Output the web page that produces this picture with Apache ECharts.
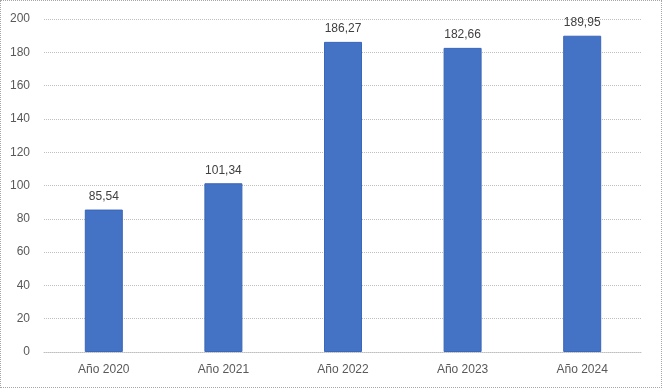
<!DOCTYPE html>
<html><head><meta charset="utf-8">
<script src="https://cdn.jsdelivr.net/npm/echarts@6/dist/echarts.min.js"></script>
<style>html,body{margin:0;padding:0;background:#fff}#c{width:662px;height:388px;box-sizing:border-box;border:1px dotted #a6a6a6}</style>
</head><body><div id="c"></div>
<script>
const categories = ['Año 2020','Año 2021','Año 2022','Año 2023','Año 2024'];
const values = [85.54, 101.34, 186.27, 182.66, 189.95];
const yTicks = {min:0, max:200, interval:20};
const chart = echarts.init(document.getElementById('c'), null, {renderer:'canvas'});
chart.setOption({
  animation:false,
  grid:{left:43, right:19, top:18, bottom:35},
  xAxis:{type:'category', data:categories,
    axisLine:{lineStyle:{color:'#bfbfbf', type:'dotted'}}, axisTick:{show:false},
    axisLabel:{color:'#595959', fontSize:12, fontFamily:'Liberation Sans, Arial', margin:12}},
  yAxis:{type:'value', min:yTicks.min, max:yTicks.max, interval:yTicks.interval,
    axisLine:{show:false}, axisTick:{show:false},
    splitLine:{lineStyle:{color:'#bfbfbf', type:'dotted'}},
    axisLabel:{color:'#595959', fontSize:12, fontFamily:'Liberation Sans, Arial', margin:14}},
  series:[{type:'bar', data:values, barWidth:38,
    itemStyle:{color:'#4472c4', borderColor:'#3a66bb', borderWidth:1},
    label:{show:true, position:'top', distance:7, color:'#404040', fontSize:12, fontFamily:'Liberation Sans, Arial',
      formatter:p=>p.value.toFixed(2).replace('.',',')}}]
});
</script></body></html>
